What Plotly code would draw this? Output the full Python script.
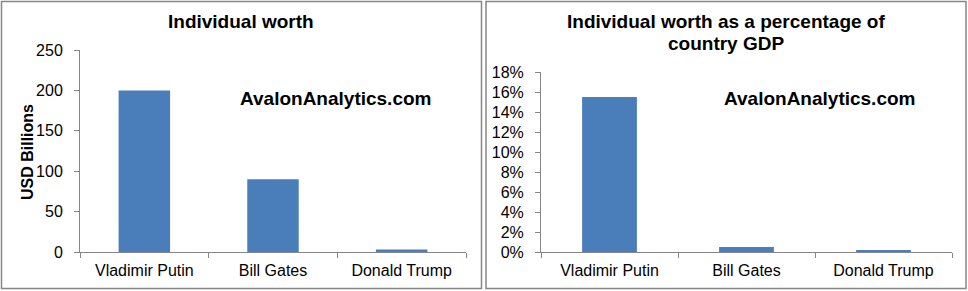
import plotly.graph_objects as go

names = ["Vladimir Putin", "Bill Gates", "Donald Trump"]
worth_usd_bn = [200, 90, 3]
worth_pct_gdp = [0.155, 0.005, 0.0013]

W, H = 968, 291
FONT = "Liberation Sans, Arial, sans-serif"
BAR = "#4A7EBB"
GRAY = "#868686"

def px(x):
    return x / W

def py(y):
    return 1 - y / H

fig = go.Figure()
fig.add_trace(go.Bar(x=names, y=worth_usd_bn, marker_color=BAR, width=0.4,
                     xaxis="x", yaxis="y", showlegend=False))
fig.add_trace(go.Bar(x=names, y=worth_pct_gdp, marker_color=BAR, width=0.4,
                     xaxis="x2", yaxis="y2", showlegend=False))

common_x = dict(showline=True, linecolor=GRAY, linewidth=1, ticks="outside",
                tickson="boundaries", ticklen=5, tickcolor=GRAY, showgrid=False,
                range=[-0.5, 2.5], tickfont=dict(family=FONT, size=16, color="black"),
                automargin=False, fixedrange=True, ticklabelstandoff=4)
common_y = dict(showline=True, linecolor=GRAY, linewidth=1, ticks="outside",
                ticklen=5, tickcolor=GRAY, showgrid=False, zeroline=False,
                tickfont=dict(family=FONT, size=16, color="black"),
                automargin=False, ticklabelstandoff=8)

def note(text, x, y, size=19, angle=0):
    return dict(text=text, x=px(x), y=py(y), xref="paper", yref="paper",
                xanchor="center", yanchor="middle", showarrow=False,
                textangle=angle, font=dict(family=FONT, size=size, color="black"))

fig.update_layout(
    template="none",
    width=W, height=H, margin=dict(l=0, r=0, t=0, b=0, pad=0, autoexpand=False),
    paper_bgcolor="white", plot_bgcolor="white",
    xaxis=dict(domain=[px(80), px(466)], anchor="y", **common_x),
    yaxis=dict(domain=[py(252), py(50)], anchor="x", range=[0, 250],
               tickvals=[0, 50, 100, 150, 200, 250], **common_y),
    xaxis2=dict(domain=[px(541), px(952)], anchor="y2", **common_x),
    yaxis2=dict(domain=[py(252), py(72)], anchor="x2", range=[0, 0.18],
                tickvals=[0, 0.02, 0.04, 0.06, 0.08, 0.10, 0.12, 0.14, 0.16, 0.18],
                tickformat=".0%", **common_y),
    shapes=[
        dict(type="rect", xref="paper", yref="paper", x0=px(1.5), x1=px(481.5),
             y0=py(288.5), y1=py(1.5), line=dict(color=GRAY, width=1.5)),
        dict(type="rect", xref="paper", yref="paper", x0=px(486), x1=px(966),
             y0=py(288.5), y1=py(1.5), line=dict(color=GRAY, width=1.5)),
    ],
    annotations=[
        note("<b>Individual worth</b>", 241, 22),
        note("<b>Individual worth as a percentage of</b>", 726, 22),
        note("<b>country GDP</b>", 726, 43),
        note("<b>AvalonAnalytics.com</b>", 335, 98),
        note("<b>AvalonAnalytics.com</b>", 819.5, 98),
        note("<b>USD Billions</b>", 27, 152, size=16, angle=-90),
    ],
)

fig.write_html("out.html")
